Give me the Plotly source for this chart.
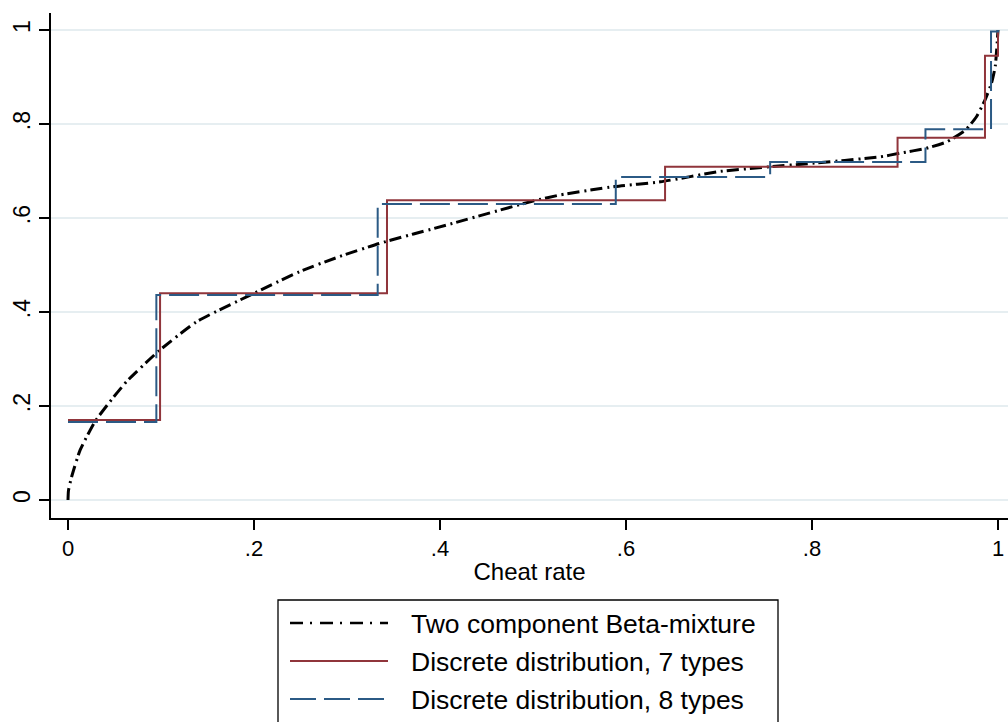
import plotly.graph_objects as go

# ---- data ----
beta_x = [0, 0.0005, 0.004, 0.013, 0.029, 0.045, 0.063, 0.097, 0.138, 0.196, 0.249, 0.292,
          0.335, 0.407, 0.5, 0.529, 0.588, 0.637, 0.701, 0.755, 0.798, 0.873, 0.895, 0.922,
          0.945, 0.965, 0.977, 0.986, 0.993, 0.997, 1.0]
beta_y = [0, 0.02, 0.05, 0.106, 0.167, 0.209, 0.252, 0.316, 0.379, 0.436, 0.486, 0.518,
          0.546, 0.585, 0.636, 0.649, 0.667, 0.677, 0.699, 0.709, 0.716, 0.730, 0.738, 0.748,
          0.762, 0.787, 0.816, 0.851, 0.887, 0.922, 1.0]

types7_x = [0, 0.099, 0.343, 0.642, 0.892, 0.986, 1.0]
types7_y = [0.17, 0.44, 0.638, 0.709, 0.771, 0.945, 1.0]

types8_x = [0, 0.095, 0.333, 0.589, 0.755, 0.922, 0.9925, 1.0]
types8_y = [0.166, 0.436, 0.630, 0.687, 0.719, 0.789, 0.997, 1.0]

tick_vals = [0, 0.2, 0.4, 0.6, 0.8, 1]
tick_text = ["0", ".2", ".4", ".6", ".8", "1"]

names = ["Two component Beta-mixture", "Discrete distribution, 7 types", "Discrete distribution, 8 types"]

BLACK = "#000000"
MAROON = "#90353b"
NAVY = "#2b5a85"
FONT = "Liberation Sans, Arial, Helvetica, sans-serif"

fig = go.Figure()
fig.add_trace(go.Scatter(x=beta_x, y=beta_y, mode="lines", name=names[0], showlegend=False,
                         line=dict(color=BLACK, width=3, dash="12px,5px,2px,4px",
                                   shape="spline", smoothing=0.5)))
fig.add_trace(go.Scatter(x=types7_x, y=types7_y, mode="lines", name=names[1], showlegend=False,
                         line=dict(color=MAROON, width=2, shape="hv")))
fig.add_trace(go.Scatter(x=types8_x, y=types8_y, mode="lines", name=names[2], showlegend=False,
                         line=dict(color=NAVY, width=2, dash="30px,8px", shape="hv")))

# plot area in pixels: x 51..1008, y 13..518
L, R, T, B = 51, 1008, 13, 518
W, H = 1008, 722


def px(xp):
    return (xp - L) / (R - L)


def py(yp):
    return (B - yp) / (B - T)


# ---- legend drawn as a framed box below the axis ----
fig.add_shape(type="rect", xref="paper", yref="paper",
              x0=px(278), x1=px(778), y0=py(600), y1=py(740),
              line=dict(color="#000000", width=1.3), fillcolor="rgba(0,0,0,0)")
leg_styles = [dict(color=BLACK, width=2.6, dash="13px,7px,2px,8px"),
              dict(color=MAROON, width=2),
              dict(color=NAVY, width=2, dash="26px,8px")]
rows = [623, 661, 699]
for nm, st, ry in zip(names, leg_styles, rows):
    fig.add_shape(type="line", xref="paper", yref="paper",
                  x0=px(290), x1=px(388), y0=py(ry), y1=py(ry), line=st)
    fig.add_annotation(xref="paper", yref="paper", x=px(409), y=py(ry + 1),
                       text=nm, showarrow=False, xanchor="left", yanchor="middle",
                       font=dict(family=FONT, size=26.5, color="#000000"))

fig.update_layout(
    width=W, height=H,
    margin=dict(l=L, r=W - R, t=T, b=H - B, pad=0),
    paper_bgcolor="#ffffff", plot_bgcolor="#ffffff",
    font=dict(family=FONT, size=22, color="#000000"),
    showlegend=False,
)
fig.update_xaxes(
    range=[(L - 68) / 930, (R - 68) / 930],
    tickvals=tick_vals, ticktext=tick_text,
    ticks="outside", ticklen=10, tickwidth=1.5, tickcolor="#000000",
    showline=True, linecolor="#000000", linewidth=1.5,
    showgrid=False, zeroline=False,
    tickfont=dict(size=22),
    title=dict(text="Cheat rate", font=dict(size=24), standoff=3),
)
fig.update_yaxes(
    range=[(500 - B) / 470, (500 - T) / 470],
    tickvals=tick_vals, ticktext=tick_text, tickangle=-90,
    ticks="outside", ticklen=10, tickwidth=1.5, tickcolor="#000000",
    showline=True, linecolor="#000000", linewidth=1.5,
    showgrid=True, gridcolor="#e6eef1", gridwidth=1.5, zeroline=False,
    tickfont=dict(size=23),
)

fig.write_html("out.html")
